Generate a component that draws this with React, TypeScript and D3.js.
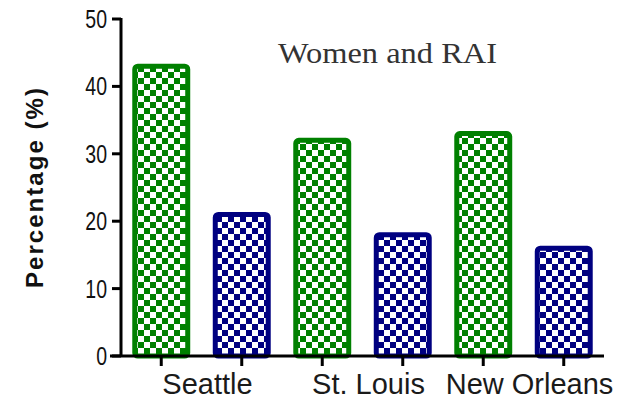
import React from "react";
import * as d3 from "d3";

const cities = ["Seattle", "St. Louis", "New Orleans"];
const series = ["A", "B"];
const valuesA = [43, 32, 33];
const valuesB = [21, 18, 16];
const yTicks = [0, 10, 20, 30, 40, 50];
const title = "Women and RAI";
const yLabel = "Percentage (%)";

const colors: Record<string, string> = { A: "#008000", B: "#000080" };

export default function App() {
  const W = 637;
  const H = 400;
  const axisX = 121;
  const xEnd = 604;
  const y = d3.scaleLinear().domain([0, 50]).range([356, 19]);

  const bars = cities.flatMap((c, i) => [
    { key: `${c}-A`, city: c, s: "A", v: valuesA[i] },
    { key: `${c}-B`, city: c, s: "B", v: valuesB[i] },
  ]);
  const x = d3
    .scaleBand<string>()
    .domain(bars.map((b) => b.key))
    .range([axisX, xEnd])
    .paddingInner(0.28)
    .paddingOuter(0.14);

  const sw = 5;
  const cell = 6;

  return (
    <svg
      width={W}
      height={H}
      style={{ position: "absolute", left: 0, top: 0, background: "#fff" }}
    >
      <defs>
        {series.map((s) => (
          <pattern
            key={s}
            id={`chk-${s}`}
            width={cell * 2}
            height={cell * 2}
            patternUnits="userSpaceOnUse"
          >
            <rect width={cell * 2} height={cell * 2} fill="#fff" />
            <rect x={0} y={0} width={cell} height={cell} fill={colors[s]} />
            <rect x={cell} y={cell} width={cell} height={cell} fill={colors[s]} />
          </pattern>
        ))}
      </defs>

      {/* title */}
      <text
        x={278}
        y={63}
        fontFamily="'Liberation Serif', 'DejaVu Serif', serif"
        fontSize={29}
        fill="#333"
        textLength={219}
        lengthAdjust="spacingAndGlyphs"
      >
        {title}
      </text>

      {/* bars */}
      {bars.map((b) => {
        const x0 = x(b.key)!;
        const bw = x.bandwidth();
        const top = y(b.v);
        return (
          <rect
            key={b.key}
            x={x0 + sw / 2}
            y={top}
            width={bw - sw}
            height={y(0) - top}
            rx={3}
            fill={`url(#chk-${b.s})`}
            stroke={colors[b.s]}
            strokeWidth={sw}
          />
        );
      })}

      {/* y axis */}
      <line x1={axisX} x2={axisX} y1={y(50) - 1} y2={y(0) + 1} stroke="#000" strokeWidth={3} />
      {yTicks.map((t) => (
        <g key={t}>
          <line x1={112} x2={axisX} y1={y(t)} y2={y(t)} stroke="#000" strokeWidth={3} />
          <text
            transform={`translate(107,${y(t) + 9}) scale(0.78,1)`}
            textAnchor="end"
            fontFamily="'Liberation Sans', Arial, sans-serif"
            fontSize={25}
            fill="#111"
          >
            {t}
          </text>
        </g>
      ))}

      {/* x axis */}
      <line x1={110} x2={xEnd} y1={y(0)} y2={y(0)} stroke="#000" strokeWidth={3} />
      {bars.map((b) => {
        const cx = x(b.key)! + x.bandwidth() / 2;
        return (
          <line key={b.key} x1={cx} x2={cx} y1={y(0)} y2={y(0) + 10} stroke="#000" strokeWidth={3} />
        );
      })}
      {cities.map((c) => {
        const a = x(`${c}-A`)! + x.bandwidth() / 2;
        const bb = x(`${c}-B`)! + x.bandwidth() / 2;
        return (
          <text
            key={c}
            x={(a + bb) / 2 + 6}
            y={394}
            textAnchor="middle"
            fontFamily="'Liberation Sans', Arial, sans-serif"
            fontSize={29}
            fill="#1a1a1a"
          >
            {c}
          </text>
        );
      })}

      {/* y label */}
      <text
        transform={`translate(43,188) rotate(-90)`}
        textAnchor="middle"
        fontFamily="'Liberation Sans', Arial, sans-serif"
        fontWeight="bold"
        fontSize={24}
        fill="#111"
        textLength={200}
        lengthAdjust="spacing"
      >
        {yLabel}
      </text>
    </svg>
  );
}
